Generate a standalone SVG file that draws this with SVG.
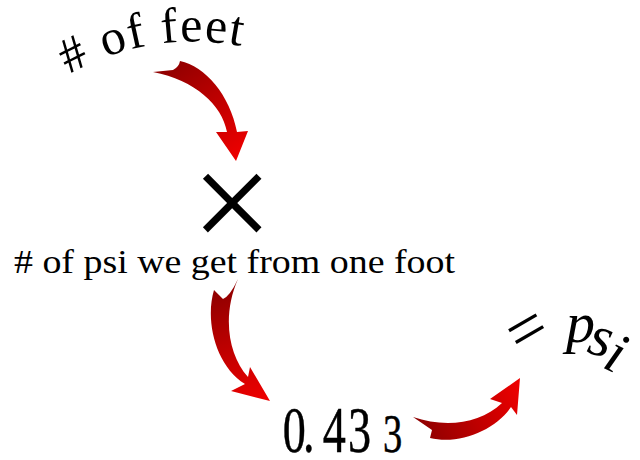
<svg xmlns="http://www.w3.org/2000/svg" width="640" height="460" viewBox="0 0 640 460">
<style>
text{font-family:'Liberation Serif','Times New Roman',serif;fill:#000}
.arrow-dark{stop-color:#8e0000}
.arrow-bright{stop-color:#ee0000}
</style>
<defs>
<linearGradient id="g1" gradientUnits="userSpaceOnUse" x1="165" y1="65" x2="236" y2="160"><stop offset="0" class="arrow-dark"/><stop offset="1" class="arrow-bright"/></linearGradient>
<linearGradient id="g2" gradientUnits="userSpaceOnUse" x1="225" y1="285" x2="265" y2="400"><stop offset="0" class="arrow-dark"/><stop offset="1" class="arrow-bright"/></linearGradient>
<linearGradient id="g3" gradientUnits="userSpaceOnUse" x1="420" y1="430" x2="520" y2="385"><stop offset="0" class="arrow-dark"/><stop offset="1" class="arrow-bright"/></linearGradient>
<path id="arcFeet" d="M31.7 100.2 A251 251 0 0 1 354.3 100.2"/>
</defs>
<rect width="640" height="460" fill="#fff"/>
<g id="connectors">
<path fill="url(#g1)" d="M153,72 L173,70 Q179,67 180,61 C205,66 230,95 237,132 L248,131 L236,161 L216,132 L227,132 C222,105 195,80 153,72 Z"/>
<path fill="url(#g2)" d="M238,279 Q230,296 223,299 L214,290 C205,320 215,365 245,384 L231,391 L270,401 L250,367 L248,377 C228,355 222,315 238,279 Z"/>
<path fill="url(#g3)" d="M413,417 L432,430 L430,438 C460,445 495,430 511,407 L517,415 L520,378 L490,399 L502,403 C480,424 445,428 413,417 Z"/>
</g>
<g id="feet"><text font-size="50" letter-spacing="1.5"><textPath href="#arcFeet" startOffset="45"># of feet</textPath></text></g>
<g id="times"><text x="232" y="251" font-size="144" text-anchor="middle">×</text></g>
<g id="per-foot"><text x="14" y="273" font-size="33" textLength="441" lengthAdjust="spacingAndGlyphs"># of psi we get from one foot</text></g>
<g id="value"><text transform="translate(0 452) scale(0.7 1)" stroke="#000" stroke-width="0.5"><tspan x="404 433 461 497" y="0" font-size="66">0.43</tspan><tspan x="547" font-size="55">3</tspan></text></g>
<g id="result"><text font-style="italic" font-size="58"><tspan x="517" y="360" font-size="68" rotate="-30">= </tspan><tspan x="566 585.7 601" y="342 352.2 367" rotate="0 15 25">psi</tspan></text></g>
</svg>
